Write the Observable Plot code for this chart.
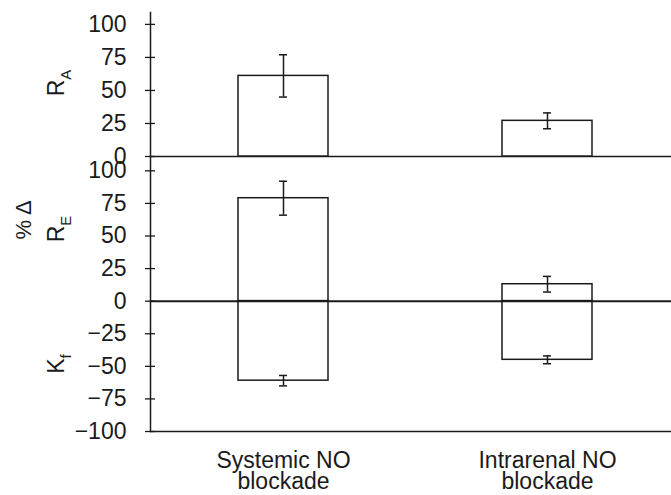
<!DOCTYPE html>
<html><head><meta charset="utf-8">
<script src="https://cdn.jsdelivr.net/npm/d3@7"></script>
<script src="https://cdn.jsdelivr.net/npm/@observablehq/plot@0.6"></script>
<style>
body{margin:0;background:#fff;}
#wrap{position:relative;width:671px;height:495px;font-family:"Liberation Sans",Arial,sans-serif;}
#wrap > svg{position:absolute;left:0;top:0;}
</style></head><body><div id="wrap"></div>
<script>
const categories = ["Systemic NO\nblockade", "Intrarenal NO\nblockade"];
const rA = [61, 27];
const rAErr = [16, 6];
const rE = [79, 13];
const rEErr = [13, 6];
const kf = [-61, -45];
const kfErr = [4, 3];
const topTicks = [0, 25, 50, 75, 100];
const bottomTicks = [-100, -75, -50, -25, 0, 25, 50, 75, 100];

const ink = "#1a1a1a";
const font = '"Liberation Sans", Arial, sans-serif';
const topRows = categories.map((c, i) => ({cat: c, v: rA[i], e: rAErr[i]}));
const botRows = categories.flatMap((c, i) => [
  {cat: c, v: rE[i], e: rEErr[i]},
  {cat: c, v: kf[i], e: kfErr[i]}
]);
const xs = {domain: categories, paddingInner: 0.659, paddingOuter: 0.316, align: 0.527};
const style = {background: "none", color: ink, fontFamily: font, overflow: "visible"};

function errMarks(rows) {
  return [
    Plot.barY(rows, {x: "cat", y: "v", fill: "white", stroke: ink, strokeWidth: 1.5}),
    Plot.ruleX(rows, {x: "cat", y1: d => d.v - d.e, y2: d => d.v + d.e, stroke: ink, strokeWidth: 1.5}),
    Plot.tickY(rows, {x: "cat", y: d => d.v + d.e, insetLeft: 41, insetRight: 41, stroke: ink, strokeWidth: 1.5}),
    Plot.tickY(rows, {x: "cat", y: d => d.v - d.e, insetLeft: 41, insetRight: 41, stroke: ink, strokeWidth: 1.5})
  ];
}
function yAxis(ticks) {
  return [
    Plot.axisY({ticks, tickSize: 5, tickPadding: 19, fontSize: 23, stroke: ink, strokeWidth: 1.3, label: null}),
    Plot.axisY({ticks, tickSize: -5, tickFormat: () => "", stroke: ink, strokeWidth: 1.3, label: null})
  ];
}

const topPlot = Plot.plot({
  width: 671, height: 160,
  marginLeft: 150, marginRight: 0, marginTop: 12, marginBottom: 4,
  x: {...xs, axis: null},
  y: {domain: [0, 109], axis: null},
  style,
  marks: [
    Plot.frame({anchor: "left", stroke: ink, strokeWidth: 1.5}),
    ...yAxis(topTicks),
    Plot.ruleY([0], {stroke: ink, strokeWidth: 1.5}),
    ...errMarks(topRows)
  ]
});

const botPlot = Plot.plot({
  width: 671, height: 495,
  marginLeft: 150, marginRight: 0, marginTop: 156, marginBottom: 64,
  x: {...xs},
  y: {domain: [-100, 111], axis: null},
  style,
  marks: [
    Plot.frame({anchor: "left", stroke: ink, strokeWidth: 1.5}),
    ...yAxis(bottomTicks),
    Plot.axisX({tickSize: 0, tickPadding: 21, fontSize: 23, lineHeight: 0.93, label: null}),
    Plot.ruleY([-100], {stroke: ink, strokeWidth: 1.5}),
    ...errMarks(botRows),
    Plot.ruleY([0], {stroke: ink, strokeWidth: 2})
  ]
});

const wrap = document.getElementById("wrap");
wrap.appendChild(topPlot);
wrap.appendChild(botPlot);

const labels = [
  {t: "R", sub: "A", x: 64, y: 83},
  {t: "R", sub: "E", x: 64, y: 229},
  {t: "K", sub: "f", x: 64, y: 364},
  {t: "% \u0394", sub: "", x: 31, y: 220}
];
const lab = d3.select(wrap).append("svg").attr("width", 671).attr("height", 495)
  .style("font-family", font);
const tx = lab.selectAll("text").data(labels).join("text")
  .attr("transform", d => `translate(${d.x},${d.y}) rotate(-90)`)
  .attr("text-anchor", "middle").attr("fill", ink).attr("font-size", d => d.sub === "" ? 22 : 23);
tx.append("tspan").text(d => d.t);
tx.filter(d => d.sub !== "").append("tspan").attr("dy", 7).attr("font-size", 15).text(d => d.sub);
</script></body></html>
